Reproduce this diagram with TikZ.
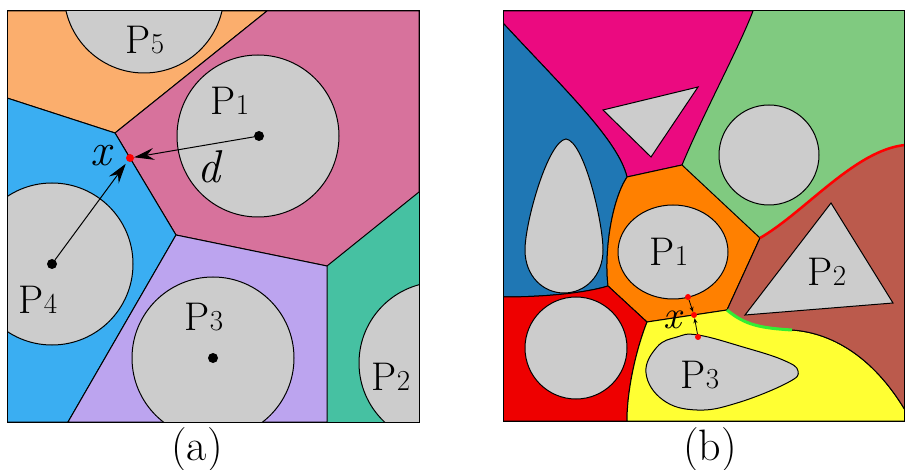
\documentclass[tikz,border=0pt]{standalone}
\usetikzlibrary{arrows.meta, positioning}
\definecolor{obsgray}{HTML}{CCCCCC}
\definecolor{aorange}{HTML}{FBAE6D}
\definecolor{apink}{HTML}{D7729C}
\definecolor{ablue}{HTML}{3AAEF2}
\definecolor{apurple}{HTML}{BCA4EF}
\definecolor{agreen}{HTML}{46C1A2}
\definecolor{bmagenta}{HTML}{EB0A80}
\definecolor{bblue}{HTML}{1F77B4}
\definecolor{bgreen}{HTML}{80CA80}
\definecolor{borange}{HTML}{FF8000}
\definecolor{bred}{HTML}{EE0000}
\definecolor{byellow}{HTML}{FFFF33}
\definecolor{bbrown}{HTML}{BB5A4C}
\definecolor{hired}{HTML}{FF0000}
\definecolor{higreen}{HTML}{33EE33}
\newcommand{\pn}[1]{P{\fontsize{29}{32}\selectfont #1}}

\begin{document}
\begin{tikzpicture}[x=1pt, y=-1pt,
        reg/.style={draw=black, line width=1pt, line join=round},
        obs/.style={draw=black, fill=obsgray, line width=1pt},
        lbl/.style={font=\rmfamily\fontsize{40}{44}\selectfont, inner sep=0pt},
        var/.style={font=\rmfamily\fontsize{46}{50}\selectfont\itshape, inner sep=0pt},
        captxt/.style={font=\rmfamily\fontsize{44}{48}\selectfont, inner sep=0pt},
        dot/.style={circle, fill=black, inner sep=0pt, minimum size=10pt},
        rdot/.style={circle, fill=red, inner sep=0pt, minimum size=8pt},
        arr/.style={-{Stealth[length=20pt, width=12pt, inset=7pt]}, line width=1pt},
        sarr/.style={-{Stealth[length=5pt, width=4pt, inset=1.5pt]}, line width=0.8pt}
      ]
        \useasboundingbox (0,0) rectangle (905,470);

        % (a)
        \begin{scope}
          \clip (7,11) rectangle (419,422);
          \fill[agreen] (7,11) rectangle (419,422);
          \filldraw[reg, fill=aorange] (7,11) -- (267,11) -- (115,133) -- (7,98) -- cycle;
          \filldraw[reg, fill=apink] (267,11) -- (419,11) -- (419,192) -- (327,266) -- (176,235) -- (115,133) -- cycle;
          \filldraw[reg, fill=ablue] (7,98) -- (115,133) -- (176,235) -- (68,422) -- (7,422) -- cycle;
          \filldraw[reg, fill=apurple] (176,235) -- (327,266) -- (327,422) -- (68,422) -- cycle;
          \filldraw[obs] (144,-7) circle[radius=80pt];
          \filldraw[obs] (258,136) circle[radius=81pt];
          \filldraw[obs] (52,264) circle[radius=81pt];
          \filldraw[obs] (213,358) circle[radius=81pt];
          \filldraw[obs] (440,363) circle[radius=81pt];
        \end{scope}
        \draw[line width=1pt] (7,11) rectangle (419,422);
        \node[lbl] (p5) at (145,40) {\pn{5}};
        \node[lbl] (p1) at (230,101) {\pn{1}};
        \node[lbl] (p4) at (38,300) {\pn{4}};
        \node[lbl] (p3) at (204,317) {\pn{3}};
        \node[lbl] (p2) at (391,377) {\pn{2}};
        \node[dot] (c1) at (259,136) {};
        \node[dot] (c4) at (52,264) {};
        \node[dot] (c3) at (213,358) {};
        \node[rdot] (xa) at (130,158) {};
        \draw[arr] (c1) -- (xa);
        \draw[arr, shorten >=3pt] (c4) -- (xa);
        \node[var] (lx) at (101,156) {x};
        \node[var] (ld) at (209,167) {d};
        \node[captxt] (ca) at (197,450) {(a)};

        % (b)
        \begin{scope}
          \clip (503,11) rectangle (904,421);
          \fill[bgreen] (503,11) rectangle (904,421);
          \filldraw[reg, fill=bmagenta] (503,11) -- (753,11) .. controls (738,50) and (705,110) .. (682,165)
            -- (627,177) .. controls (618,140) and (565,90) .. (503,23) -- cycle;
          \filldraw[reg, fill=bblue] (503,23) .. controls (565,90) and (618,140) .. (627,177)
            .. controls (612,200) and (604,250) .. (608,286) .. controls (585,293) and (545,297) .. (503,297) -- cycle;
          \filldraw[reg, fill=borange] (627,177) -- (682,165) -- (760,238) -- (727,310) -- (647,322) -- (608,286)
            .. controls (604,250) and (612,200) .. (627,177) -- cycle;
          \filldraw[reg, fill=bred] (503,297) .. controls (545,297) and (585,293) .. (608,286) -- (647,322)
            .. controls (636,350) and (627,390) .. (627,421) -- (503,421) -- cycle;
          \filldraw[reg, fill=byellow] (647,322) -- (727,310) .. controls (745,325) and (760,328) .. (792,330)
            .. controls (835,333) and (875,360) .. (905,410) -- (905,421) -- (627,421)
            .. controls (627,390) and (636,350) .. (647,322) -- cycle;
          \filldraw[reg, fill=bbrown] (760,238) .. controls (805,212) and (855,150) .. (905,145) -- (905,410)
            .. controls (875,360) and (835,333) .. (792,330) .. controls (760,328) and (745,325) .. (727,310) -- cycle;
          \draw[hired, line width=2.5pt] (760,238) .. controls (805,212) and (855,150) .. (905,145);
          \draw[higreen, line width=3pt] (727,310) .. controls (745,325) and (760,328) .. (792,330);
          \filldraw[obs] (603,110) -- (698,87) -- (651,157) -- cycle;
          \filldraw[obs] (769,155) circle[radius=50pt];
          \filldraw[obs] (566,139) .. controls (584,141) and (603,222) .. (603,250)
            .. controls (603,276) and (585,293) .. (564,293) .. controls (543,293) and (525,276) .. (525,250)
            .. controls (525,222) and (548,141) .. (566,139) -- cycle;
          \filldraw[obs] (576,348) circle[radius=51pt];
          \filldraw[obs] (673,252) ellipse[x radius=55pt, y radius=47pt];
          \filldraw[obs] (831,203) -- (893,303) -- (745,315) -- cycle;
          \filldraw[obs] plot[smooth cycle, tension=0.7] coordinates {(698,335) (743,347) (783,360) (798,371)
            (787,383) (737,403) (697,410) (663,400) (646,373) (657,347) (677,337)};
        \end{scope}
        \draw[line width=1pt] (503,11) rectangle (904,421);
        \node[lbl] (q1) at (669,252) {\pn{1}};
        \node[lbl] (q2) at (827,272) {\pn{2}};
        \node[lbl] (q3) at (700,375) {\pn{3}};
        \node[rdot, minimum size=6pt] (y1) at (688,297) {};
        \node[rdot, minimum size=6pt] (xb) at (694,315) {};
        \node[rdot, minimum size=6pt] (y3) at (698,337) {};
        \draw[sarr] (y1) -- (xb);
        \draw[sarr] (y3) -- (xb);
        \node[var, font=\rmfamily\fontsize{40}{44}\selectfont\itshape] (lxb) at (672,320) {x};
        \node[captxt] (cb) at (710,450) {(b)};
      \end{tikzpicture}
\end{document}
